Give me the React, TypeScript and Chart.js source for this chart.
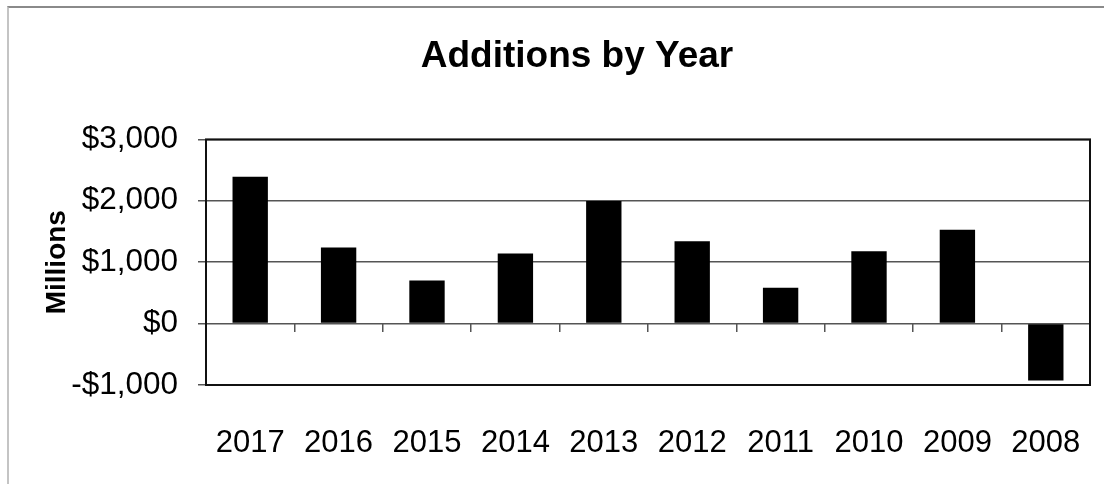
import React, { useEffect, useRef } from "react";
import { Chart, registerables } from "chart.js";

Chart.register(...registerables);

const chartTitle = "Additions by Year";
const yAxisTitle = "Millions";
const years = ["2017", "2016", "2015", "2014", "2013", "2012", "2011", "2010", "2009", "2008"];
const additions = [2390, 1240, 700, 1140, 1995, 1340, 585, 1180, 1530, -925];
const yMin = -1000;
const yMax = 3000;
const yStep = 1000;

const FONT = "'Liberation Sans', Arial, Helvetica, sans-serif";

function formatMoney(v: number): string {
  const abs = Math.abs(v).toLocaleString("en-US");
  return (v < 0 ? "-$" : "$") + abs;
}

const framePlugin = {
  id: "frame",
  afterDatasetsDraw(chart: any) {
    const { ctx, chartArea } = chart;
    ctx.save();
    ctx.strokeStyle = "#111";
    ctx.lineWidth = 2;
    ctx.strokeRect(chartArea.left, chartArea.top, chartArea.right - chartArea.left, chartArea.bottom - chartArea.top);
    ctx.restore();
  },
};

export default function App() {
  const canvasRef = useRef<HTMLCanvasElement | null>(null);

  useEffect(() => {
    if (!canvasRef.current) return;
    const chart = new Chart(canvasRef.current, {
      type: "bar",
      data: {
        labels: years,
        datasets: [
          {
            data: additions,
            backgroundColor: "#000",
            borderWidth: 0,
            barPercentage: 0.4,
            categoryPercentage: 1.0,
          },
        ],
      },
      plugins: [framePlugin],
      options: {
        responsive: false,
        animation: false,
        layout: { padding: { left: 64, right: 64, top: 12, bottom: 22 } },
        plugins: {
          legend: { display: false },
          tooltip: { enabled: false },
          title: {
            display: true,
            text: chartTitle,
            color: "#000",
            font: { family: FONT, size: 37, weight: "bold" },
            padding: { top: 23, bottom: 60 },
          },
        },
        scales: {
          x: {
            type: "category",
            offset: true,
            afterFit(scale: any) {
              scale.height = 77;
            },
            grid: { display: false, drawTicks: false },
            border: { display: false },
            ticks: {
              color: "#000",
              font: { family: FONT, size: 31 },
              padding: 40,
              maxRotation: 0,
              autoSkip: false,
            },
          },
          x2: {
            type: "category",
            axis: "x",
            position: { y: 0 },
            offset: true,
            afterFit(scale: any) {
              scale.height = 0;
            },
            grid: {
              offset: true,
              drawOnChartArea: false,
              drawTicks: true,
              tickLength: 8,
              color: "#555",
              lineWidth: 1.5,
            },
            border: { display: false },
            ticks: { display: false },
          },
          y: {
            min: yMin,
            max: yMax,
            afterFit(scale: any) {
              scale.width = 142;
            },
            ticks: {
              stepSize: yStep,
              color: "#000",
              padding: 20,
              font: { family: FONT, size: 31.5 },
              callback: (v: any) => formatMoney(Number(v)),
            },
            grid: {
              color: "#555",
              lineWidth: 1.5,
              tickLength: 8,
            },
            border: { display: false },
            title: {
              display: true,
              text: yAxisTitle,
              color: "#000",
              font: { family: FONT, size: 28, weight: "bold" },
              padding: { top: -24, bottom: 0 },
            },
          },
        },
      } as any,
    });
    return () => chart.destroy();
  }, []);

  return (
    <div
      style={{
        position: "fixed",
        left: 0,
        top: 0,
        width: 1104,
        height: 484,
        overflow: "hidden",
        background: "#fff",
      }}
    >
      <div
        style={{
          position: "absolute",
          left: 7,
          top: 6,
          width: 1200,
          height: 600,
          borderTop: "2px solid #8a8a8a",
          borderLeft: "2px solid #c4c4c4",
        }}
      />
      <canvas
        ref={canvasRef}
        width={1154}
        height={484}
        style={{ position: "absolute", left: 0, top: 0, width: 1154, height: 484 }}
      />
    </div>
  );
}
